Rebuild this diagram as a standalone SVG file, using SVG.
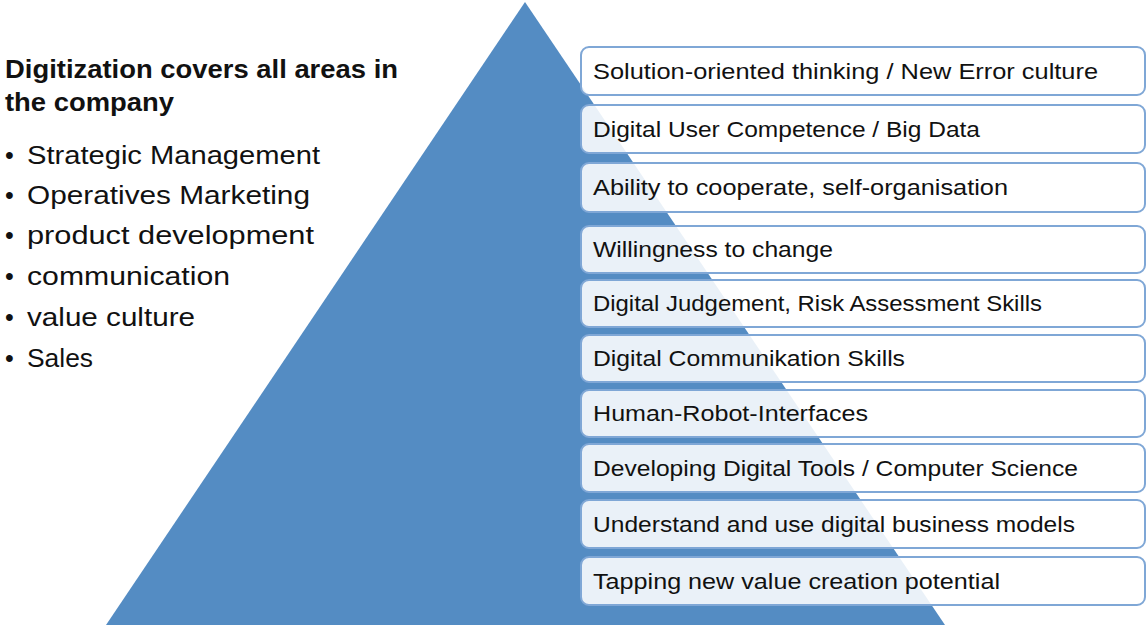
<svg xmlns="http://www.w3.org/2000/svg" width="1147" height="625" viewBox="0 0 1147 625">
<style>
.box rect{fill:#ffffff;fill-opacity:0.88;stroke:#7fa7d6;stroke-width:2}
.bt{font-family:"Liberation Sans",Arial,sans-serif;font-size:22px;fill:#111111}
.li{font-family:"Liberation Sans",Arial,sans-serif;font-size:25px;fill:#111111}
.ti{font-family:"Liberation Sans",Arial,sans-serif;font-size:26px;font-weight:bold;fill:#111111}
</style>
<rect width="1147" height="625" fill="#ffffff"/>
<g id="pyramid"><polygon points="525,2 106,625 945,625" fill="#548cc3"/></g>
<g id="intro">
<text class="ti" x="5" y="78" textLength="393" lengthAdjust="spacingAndGlyphs">Digitization covers all areas in</text>
<text class="ti" x="5" y="111" textLength="169" lengthAdjust="spacingAndGlyphs">the company</text>
<g class="li">
<text x="5" y="164">•</text><text x="27" y="164" textLength="293" lengthAdjust="spacingAndGlyphs">Strategic Management</text>
<text x="5" y="204">•</text><text x="27" y="204" textLength="283" lengthAdjust="spacingAndGlyphs">Operatives Marketing</text>
<text x="5" y="244">•</text><text x="27" y="244" textLength="287" lengthAdjust="spacingAndGlyphs">product development</text>
<text x="5" y="285">•</text><text x="27" y="285" textLength="203" lengthAdjust="spacingAndGlyphs">communication</text>
<text x="5" y="326">•</text><text x="27" y="326" textLength="168" lengthAdjust="spacingAndGlyphs">value culture</text>
<text x="5" y="367">•</text><text x="27" y="367" textLength="66" lengthAdjust="spacingAndGlyphs">Sales</text>
</g>
</g>
<g id="b1" class="box"><rect x="581" y="47" width="564" height="48" rx="8"/><text class="bt" x="593" y="79" textLength="505" lengthAdjust="spacingAndGlyphs">Solution-oriented thinking / New Error culture</text></g>
<g id="b2" class="box"><rect x="581" y="105" width="564" height="48" rx="8"/><text class="bt" x="593" y="137" textLength="387" lengthAdjust="spacingAndGlyphs">Digital User Competence / Big Data</text></g>
<g id="b3" class="box"><rect x="581" y="163" width="564" height="49" rx="8"/><text class="bt" x="593" y="195" textLength="415" lengthAdjust="spacingAndGlyphs">Ability to cooperate, self-organisation</text></g>
<g id="b4" class="box"><rect x="581" y="226" width="564" height="47" rx="8"/><text class="bt" x="593" y="257" textLength="240" lengthAdjust="spacingAndGlyphs">Willingness to change</text></g>
<g id="b5" class="box"><rect x="581" y="280" width="564" height="47" rx="8"/><text class="bt" x="593" y="311" textLength="449" lengthAdjust="spacingAndGlyphs">Digital Judgement, Risk Assessment Skills</text></g>
<g id="b6" class="box"><rect x="581" y="335" width="564" height="47" rx="8"/><text class="bt" x="593" y="366" textLength="312" lengthAdjust="spacingAndGlyphs">Digital Communikation Skills</text></g>
<g id="b7" class="box"><rect x="581" y="390" width="564" height="47" rx="8"/><text class="bt" x="593" y="421" textLength="275" lengthAdjust="spacingAndGlyphs">Human-Robot-Interfaces</text></g>
<g id="b8" class="box"><rect x="581" y="444" width="564" height="48" rx="8"/><text class="bt" x="593" y="476" textLength="485" lengthAdjust="spacingAndGlyphs">Developing Digital Tools / Computer Science</text></g>
<g id="b9" class="box"><rect x="581" y="500" width="564" height="48" rx="8"/><text class="bt" x="593" y="532" textLength="482" lengthAdjust="spacingAndGlyphs">Understand and use digital business models</text></g>
<g id="b10" class="box"><rect x="581" y="557" width="564" height="48" rx="8"/><text class="bt" x="593" y="589" textLength="407" lengthAdjust="spacingAndGlyphs">Tapping new value creation potential</text></g>
<g id="connectors"/>
</svg>
